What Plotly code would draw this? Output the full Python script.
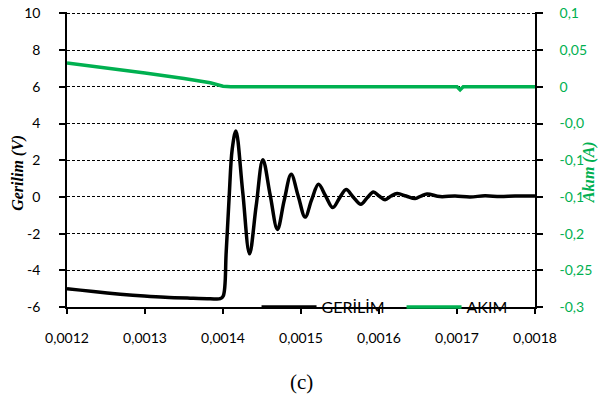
import plotly.graph_objects as go

# ---- data ----
time_v = [0.0012, 0.001217, 0.0012427, 0.0012683, 0.001299, 0.0013259, 0.001358,
          0.0013836, 0.0013964, 0.0014003, 0.0014041, 0.0014079, 0.0014118, 0.0014165,
          0.0014252, 0.001434, 0.0014425, 0.0014511, 0.0014605, 0.0014698, 0.0014784,
          0.0014874, 0.0014964, 0.0015053, 0.0015137, 0.0015224, 0.0015316, 0.0015408,
          0.0015495, 0.0015579, 0.0015668, 0.0015767, 0.0015848, 0.0015928, 0.0016001,
          0.0016078, 0.0016155, 0.0016232, 0.0016347, 0.0016463, 0.0016539, 0.0016616,
          0.0016783, 0.0016975, 0.0017167, 0.0017359, 0.0017552, 0.0017744, 0.0018]
gerilim = [-5.0, -5.08, -5.2, -5.3, -5.4, -5.47, -5.52,
           -5.55, -5.55, -5.4, -3.0, 0.0, 2.6, 3.6,
           0.3, -3.1, -0.5, 2.03, 0.1, -1.77, -0.2,
           1.23, 0.05, -1.1, -0.15, 0.69, 0.05, -0.58,
           -0.05, 0.40, 0.0, -0.40, -0.05, 0.27, 0.05,
           -0.15, 0.05, 0.18, 0.05, -0.09, 0.05, 0.16,
           0.02, 0.05, 0.0, 0.06, 0.02, 0.05, 0.05]

time_a = [0.0012, 0.00125, 0.0013, 0.00135, 0.0013836, 0.0014, 0.00141,
          0.00145, 0.0015, 0.00155, 0.0016, 0.00165, 0.0017, 0.001704,
          0.001708, 0.00175, 0.0018]
akim = [0.0325, 0.026, 0.019, 0.0115, 0.0055, 0.0008, 0.0,
        0.0002, 0.0, 0.0003, 0.0001, 0.0, 0.0001, -0.004,
        0.0, 0.0002, 0.0]

x_ticks = [0.0012, 0.0013, 0.0014, 0.0015, 0.0016, 0.0017, 0.0018]
x_labels = ["0,0012", "0,0013", "0,0014", "0,0015", "0,0016", "0,0017", "0,0018"]
v_ticks = [-6, -4, -2, 0, 2, 4, 6, 8, 10]
v_labels = ["-6", "-4", "-2", "0", "2", "4", "6", "8", "10"]
a_ticks = [-0.3, -0.25, -0.2, -0.15, -0.1, -0.05, 0, 0.05, 0.1]
a_labels = ["-0,3", "-0,25", "-0,2", "-0,1", "-0,1", "-0,0", "0", "0,05", "0,1"]

GREEN = "#00B050"
FONT = "Lato"

fig = go.Figure()
fig.add_trace(go.Scatter(x=time_v, y=gerilim, name="GERİLİM", mode="lines",
                         line=dict(color="black", width=3.5, shape="spline", smoothing=1.0)))
fig.add_trace(go.Scatter(x=time_a, y=akim, name="AKIM", mode="lines", yaxis="y2",
                         line=dict(color=GREEN, width=3.5)))

fig.update_layout(
    width=603, height=405,
    margin=dict(l=67, r=68, t=12, b=98, autoexpand=False),
    paper_bgcolor="white", plot_bgcolor="white",
    font=dict(family=FONT, size=14, color="black"),
    showlegend=True,
    legend=dict(orientation="h", x=0.405, xanchor="left", y=0, yanchor="middle",
                bgcolor="rgba(0,0,0,0)", itemwidth=55,
                font=dict(family=FONT, size=16, color="black"),
                entrywidth=75, entrywidthmode="pixels", tracegroupgap=0),
    xaxis=dict(range=[0.0012, 0.0018], tickvals=x_ticks, ticktext=x_labels,
               showline=True, linecolor="black", linewidth=1.5, automargin=False,
               ticks="outside", ticklen=5, tickcolor="black", tickwidth=1.5,
               ticklabelstandoff=12, ticklabeloverflow="allow",
               showgrid=False, zeroline=False),
    yaxis=dict(range=[-6, 10.08], tickvals=v_ticks, ticktext=v_labels,
               showline=True, linecolor="black", linewidth=1.5, automargin=False,
               ticks="outside", ticklen=6, tickcolor="black", tickwidth=1.5,
               ticklabelstandoff=16, ticklabeloverflow="allow",
               showgrid=True, gridcolor="black", gridwidth=1, griddash="3px,2px",
               zeroline=False),
    yaxis2=dict(range=[-0.3, 0.102], tickvals=a_ticks, ticktext=a_labels,
                overlaying="y", side="right", automargin=False,
                showline=True, linecolor="black", linewidth=1.5,
                ticks="outside", ticklen=6, tickcolor="black", tickwidth=1.5,
                ticklabelstandoff=14, ticklabeloverflow="allow",
                tickfont=dict(color=GREEN, family=FONT, size=14),
                showgrid=False, zeroline=False),
)

fig.add_annotation(text="<b><i>Gerilim (V)</i></b>", xref="paper", yref="paper",
                   x=-0.104, y=0.456, xanchor="center", yanchor="middle",
                   textangle=-90, showarrow=False,
                   font=dict(family="Liberation Serif", size=16, color="black"))
fig.add_annotation(text="<b><i>Akım (A)</i></b>", xref="paper", yref="paper",
                   x=1.117, y=0.456, xanchor="center", yanchor="middle",
                   textangle=-90, showarrow=False,
                   font=dict(family="Liberation Serif", size=16, color=GREEN))
fig.add_annotation(text="(c)", xref="paper", yref="paper",
                   x=0.501, y=-0.253, xanchor="center", yanchor="middle",
                   showarrow=False,
                   font=dict(family="Liberation Serif", size=21, color="black"))

fig.write_html("out.html", config={"displayModeBar": False},
               post_script="document.body.style.margin='0';")
